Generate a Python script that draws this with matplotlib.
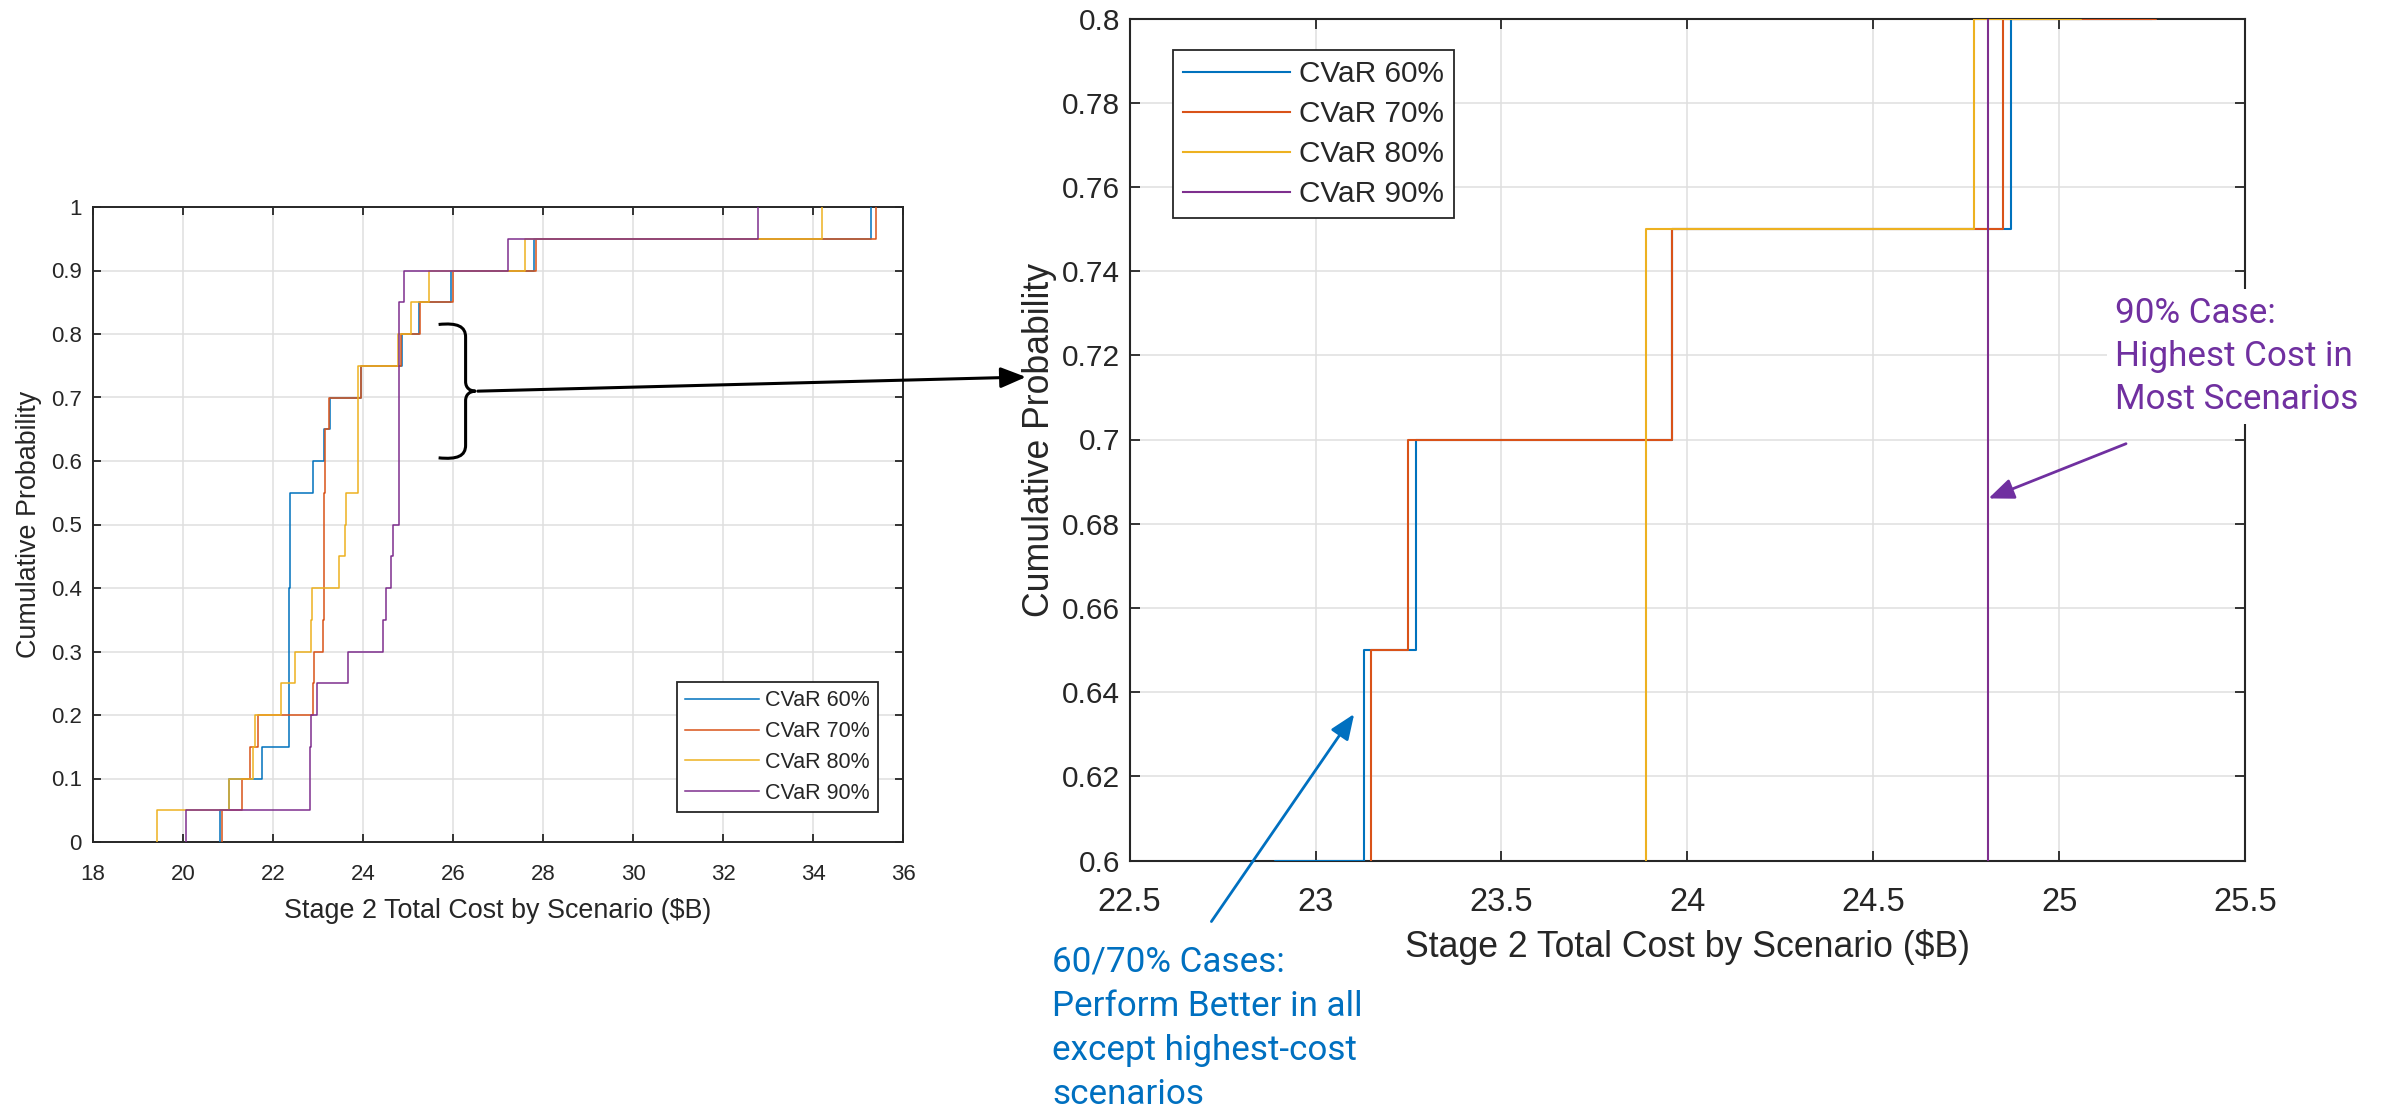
import numpy as np
import matplotlib
matplotlib.use('Agg')
import matplotlib.pyplot as plt
from matplotlib.path import Path
from matplotlib.patches import PathPatch, ConnectionPatch

# Stage 2 total cost per scenario ($B), 20 scenarios per CVaR level
cvar60 = [20.82, 21.03, 21.75, 22.35, 22.35, 22.36, 22.36, 22.36, 22.37, 22.37,
          22.37, 22.89, 23.13, 23.27, 23.96, 24.87, 25.25, 25.95, 27.81, 35.28]
cvar70 = [20.87, 21.31, 21.48, 21.67, 22.89, 22.92, 23.12, 23.13, 23.13, 23.14,
          23.14, 23.15, 23.15, 23.25, 23.96, 24.85, 25.26, 25.99, 27.85, 35.40]
cvar80 = [19.43, 21.03, 21.55, 21.60, 22.17, 22.48, 22.84, 22.86, 23.46, 23.59,
          23.62, 23.89, 23.89, 23.89, 23.89, 24.77, 25.06, 25.47, 27.61, 34.20]
cvar90 = [20.07, 22.83, 22.83, 22.84, 22.98, 23.66, 24.44, 24.51, 24.62, 24.66,
          24.81, 24.81, 24.81, 24.81, 24.81, 24.81, 24.81, 24.91, 27.22, 32.78]

series = [cvar60, cvar70, cvar80, cvar90]
labels = ['CVaR 60%', 'CVaR 70%', 'CVaR 80%', 'CVaR 90%']
colors = ['#0072BD', '#D95319', '#EDB120', '#7E2F8E']

xticks_full = np.arange(18, 37, 2)
yticks_full = np.arange(0, 1.01, 0.1)
xticks_zoom = np.arange(22.5, 25.51, 0.5)
yticks_zoom = np.arange(0.6, 0.801, 0.02)

W, H = 2387, 1107
plt.rcParams['font.family'] = ['Liberation Sans', 'DejaVu Sans']
fig = plt.figure(figsize=(W / 100, H / 100), dpi=100)

ax1 = fig.add_axes([93 / W, (H - 842) / H, 810 / W, 635 / H])
ax2 = fig.add_axes([1129.6 / W, (H - 860.5) / H, (2245 - 1129.6) / W, 842 / H])

ink = '#262626'


def ecdf_xy(vals):
    v = np.sort(vals)
    x = np.concatenate([[v[0]], v])
    y = np.arange(len(v) + 1) / len(v)
    return x, y


def style_axes(ax, xt, yt, tick_fs, tick_len, lw, xpad, ypad):
    ax.set_xticks(xt)
    ax.set_yticks(yt)
    ax.set_xticklabels([f'{round(t, 3):g}' for t in xt])
    ax.set_yticklabels([f'{round(t, 3):g}' for t in yt])
    ax.tick_params(direction='in', top=True, right=True, length=tick_len,
                   width=1.3, color=ink, labelcolor=ink, labelsize=tick_fs)
    ax.tick_params(axis='x', pad=xpad)
    ax.tick_params(axis='y', pad=ypad)
    for s in ax.spines.values():
        s.set_linewidth(lw)
        s.set_color(ink)
    ax.grid(True, color='#dfdfdf', linewidth=1.1)
    ax.set_axisbelow(True)


# full distribution
for vals, lab, c in zip(series, labels, colors):
    x, y = ecdf_xy(vals)
    ax1.step(x, y, where='post', color=c, linewidth=1.1, label=lab, zorder=3)
ax1.set_xlim(18, 36)
ax1.set_ylim(0, 1)
style_axes(ax1, xticks_full, yticks_full, 16, 5.8, 1.4, 15.5, 8)
ax1.set_xlabel('Stage 2 Total Cost by Scenario ($B)', fontsize=19.4, color=ink)
ax1.set_ylabel('Cumulative Probability', fontsize=19.4, color=ink)
ax1.xaxis.set_label_coords(0.5, -0.088)
ax1.yaxis.set_label_coords(-0.063, 0.5)
leg1 = ax1.legend(loc='upper left', bbox_to_anchor=(677 / W, 1 - 682 / H),
                  bbox_transform=fig.transFigure, fontsize=15.5, frameon=True,
                  fancybox=False, framealpha=1, edgecolor=ink, borderpad=0.38,
                  labelspacing=0.46, handlelength=3.44, handletextpad=0.27,
                  borderaxespad=0)
leg1.get_frame().set_linewidth(1.3)
for t in leg1.get_texts():
    t.set_color(ink)

# zoomed window
for vals, lab, c in zip(series, labels, colors):
    x, y = ecdf_xy(vals)
    ax2.step(x, y, where='post', color=c, linewidth=1.5, label=lab, zorder=3)
ax2.set_xlim(22.5, 25.5)
ax2.set_ylim(0.6, 0.8)
style_axes(ax2, xticks_zoom, yticks_zoom, 23.5, 7.5, 1.5, 19, 7)
ax2.tick_params(axis='y', labelsize=21.5)
ax2.set_xlabel('Stage 2 Total Cost by Scenario ($B)', fontsize=25.7, color=ink)
ax2.set_ylabel('Cumulative Probability', fontsize=25.7, color=ink)
ax2.xaxis.set_label_coords(0.5, -0.081)
ax2.yaxis.set_label_coords(-0.065, 0.5)
leg2 = ax2.legend(loc='upper left', bbox_to_anchor=(1173 / W, 1 - 50 / H),
                  bbox_transform=fig.transFigure, fontsize=21.4, frameon=True,
                  fancybox=False, framealpha=1, edgecolor=ink, borderpad=0.35,
                  labelspacing=0.40, handlelength=3.6, handletextpad=0.28,
                  borderaxespad=0)
leg2.get_frame().set_linewidth(1.3)
for t in leg2.get_texts():
    t.set_color(ink)

# curly brace around the 0.6-0.8 band of the full plot
bx_tip, bx_spine, bx_point = 25.68, 26.28, 26.5
by_top, by_mid, by_bot = 0.815, 0.71, 0.605
verts = [
    (bx_tip, by_top), (26.10, by_top + 0.003), (bx_spine, by_top - 0.003), (bx_spine, by_top - 0.02),
    (bx_spine, by_mid + 0.015),
    (bx_spine, by_mid + 0.005), (26.38, by_mid), (bx_point, by_mid),
    (26.38, by_mid), (bx_spine, by_mid - 0.005), (bx_spine, by_mid - 0.015),
    (bx_spine, by_bot + 0.02),
    (bx_spine, by_bot + 0.003), (26.10, by_bot - 0.003), (bx_tip, by_bot),
]
codes = ([Path.MOVETO] + [Path.CURVE4] * 3 + [Path.LINETO] + [Path.CURVE4] * 6
         + [Path.LINETO] + [Path.CURVE4] * 3)
ax1.add_patch(PathPatch(Path(verts, codes), facecolor='none', edgecolor='black',
                        linewidth=2.2, clip_on=False, zorder=5))

# arrow from the brace to the zoomed plot
con = ConnectionPatch(xyA=(bx_point + 0.05, by_mid), coordsA=ax1.transData,
                      xyB=(1026 / W, 1 - 377 / H), coordsB=fig.transFigure,
                      arrowstyle='-|>,head_length=1.1,head_width=0.45',
                      color='black', linewidth=2.2, mutation_scale=14,
                      shrinkA=0, shrinkB=0)
fig.add_artist(con)

# callouts on the zoomed plot
blue = '#0070C0'
purple = '#7030A0'
ax2.annotate('', xy=(23.104, 0.6348), xytext=(22.72, 0.5855),
             arrowprops=dict(arrowstyle='-|>,head_length=1.1,head_width=0.45',
                             color=blue, lw=2.0, mutation_scale=14,
                             shrinkA=0, shrinkB=0),
             annotation_clip=False)
ax2.annotate('', xy=(24.81, 0.686), xytext=(25.18, 0.699),
             arrowprops=dict(arrowstyle='-|>,head_length=1.1,head_width=0.45',
                             color=purple, lw=2.0, mutation_scale=14,
                             shrinkA=0, shrinkB=0),
             annotation_clip=False)

fig.text(1052 / W, 1 - 946 / H,
         '60/70% Cases:\nPerform Better in all\nexcept highest-cost\nscenarios',
         family=['Roboto', 'DejaVu Sans'], fontsize=25.2, color=blue,
         ha='left', va='top', linespacing=1.42)
fig.text(2115 / W, 1 - 297 / H,
         '90% Case:\nHighest Cost in\nMost Scenarios',
         family=['Roboto', 'DejaVu Sans'], fontsize=25.2, color=purple,
         ha='left', va='top', linespacing=1.38,
         bbox=dict(facecolor='white', edgecolor='none', pad=6))

fig.savefig('out.png', dpi=100, facecolor='white')
